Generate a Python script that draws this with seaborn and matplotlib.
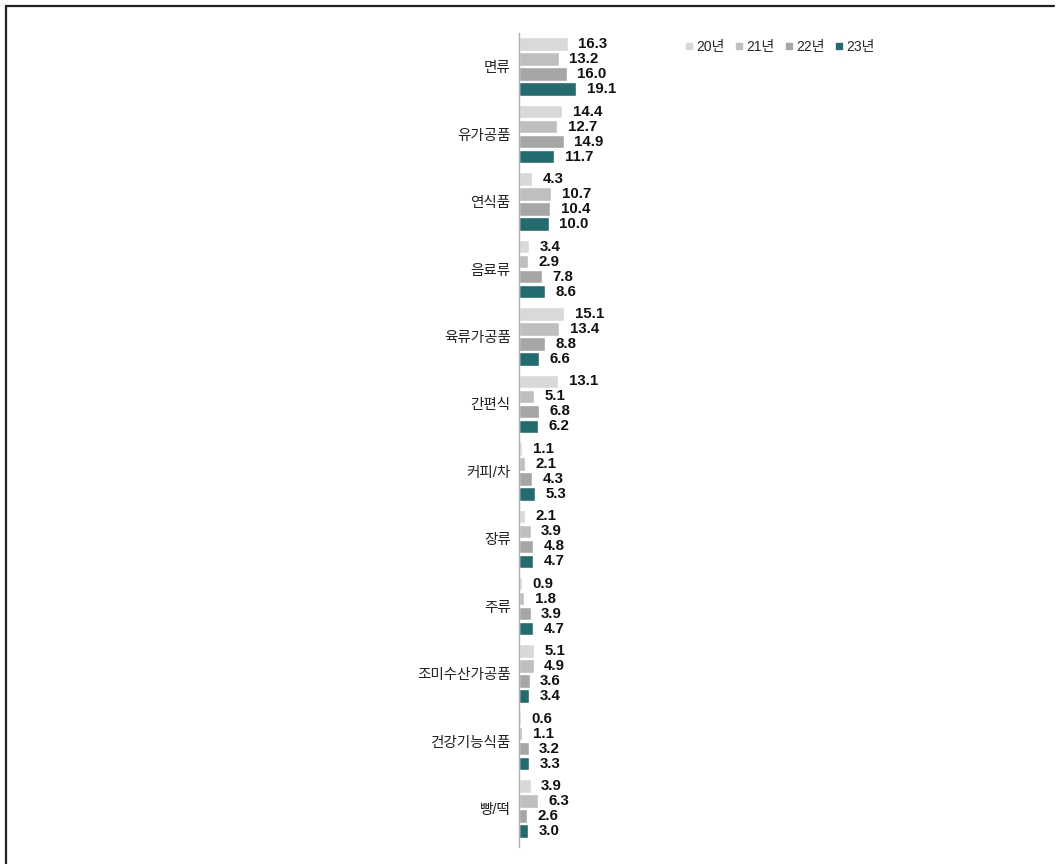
import matplotlib
matplotlib.use("Agg")
import matplotlib.pyplot as plt
from matplotlib.lines import Line2D
import seaborn as sns
import pandas as pd

categories = ["면류", "유가공품", "연식품", "음료류", "육류가공품", "간편식",
              "커피/차", "장류", "주류", "조미수산가공품", "건강기능식품", "빵/떡"]
years = ["20년", "21년", "22년", "23년"]
values_20 = [16.3, 14.4, 4.3, 3.4, 15.1, 13.1, 1.1, 2.1, 0.9, 5.1, 0.6, 3.9]
values_21 = [13.2, 12.7, 10.7, 2.9, 13.4, 5.1, 2.1, 3.9, 1.8, 4.9, 1.1, 6.3]
values_22 = [16.0, 14.9, 10.4, 7.8, 8.8, 6.8, 4.3, 4.8, 3.9, 3.6, 3.2, 2.6]
values_23 = [19.1, 11.7, 10.0, 8.6, 6.6, 6.2, 5.3, 4.7, 4.7, 3.4, 3.3, 3.0]
colors = ["#d9d9d9", "#bfbfbf", "#a6a6a6", "#226b6e"]

rows = []
for year, vals in zip(years, [values_20, values_21, values_22, values_23]):
    for cat, v in zip(categories, vals):
        rows.append({"category": cat, "year": year, "value": v})
df = pd.DataFrame(rows)

sns.set_theme(style="white")
plt.rcParams["font.family"] = ["Liberation Sans", "Noto Sans CJK KR", "DejaVu Sans"]

fig = plt.figure(figsize=(10.6, 8.64), dpi=100)
ax = fig.add_axes([0.4896, 0.0197, 0.5014, 0.9421])

sns.barplot(data=df, y="category", x="value", hue="year", order=categories,
            hue_order=years, palette=colors, orient="h", width=0.89, gap=0.1,
            saturation=1, legend=False, ax=ax)

for container in ax.containers:
    ax.bar_label(container, fmt="%.1f", padding=7.5, fontsize=10.8,
                 fontweight="bold", color="#111111")

ax.set_xlim(0, 177)
ax.set_ylim(11.57, -0.5)
ax.set_xlabel("")
ax.set_ylabel("")
ax.set_xticks([])
ax.tick_params(axis="y", length=0, pad=6, labelsize=10.5, labelcolor="#222222")
for side in ["top", "right", "bottom"]:
    ax.spines[side].set_visible(False)
ax.spines["left"].set_color("#b0b0b0")
ax.spines["left"].set_linewidth(1.0)

handles = [Line2D([], [], marker="s", linestyle="none", markersize=5,
                  markerfacecolor=c, markeredgecolor=c) for c in colors]
fig.legend(handles, years, loc="center left", bbox_to_anchor=(0.632, 0.946),
           ncol=4, frameon=False, fontsize=10, handletextpad=0.0,
           columnspacing=0.55, handlelength=1.0)

# outer frame: top and left edges
fig.add_artist(Line2D([0.0057, 0.994], [0.9931, 0.9931], color="#222222",
                      linewidth=1.6, transform=fig.transFigure))
fig.add_artist(Line2D([0.0057, 0.0057], [0.0, 0.9931], color="#222222",
                      linewidth=1.6, transform=fig.transFigure))

fig.savefig("out.png", dpi=100)
